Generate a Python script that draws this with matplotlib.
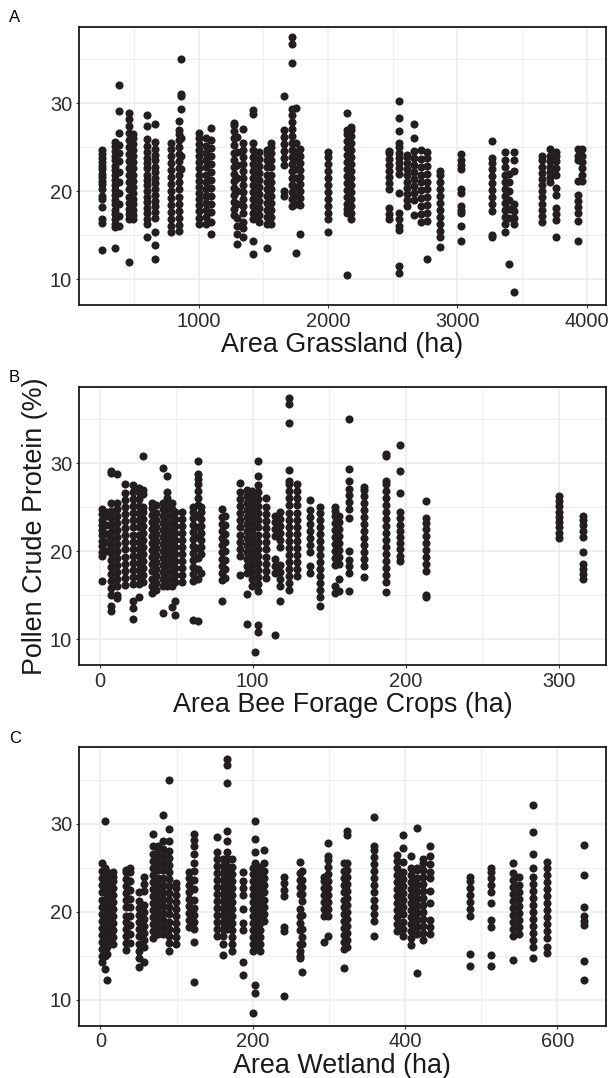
import matplotlib
matplotlib.use("Agg")
import matplotlib.pyplot as plt
from matplotlib.ticker import MultipleLocator

plt.rcParams["font.family"] = ["Liberation Sans", "DejaVu Sans"]

# ---- data: one x per site column, list of protein values per column ----

grass_x = [255, 358, 382, 466, 490, 602, 662, 789, 849, 863, 1000, 1060, 1100,
           1271, 1300, 1347, 1422, 1465, 1528, 1558, 1663, 1719, 1754, 1784,
           2004, 2146, 2176, 2471, 2553, 2613, 2667, 2719, 2764, 2863, 3029,
           3267, 3367, 3397, 3436, 3653, 3714, 3759, 3930, 3960]
grass_y = [
    [13.3, 16.4, 16.8, 18.2, 19.1, 19.5, 20.3, 20.8, 21.2, 21.6, 22.0, 22.5, 22.9, 23.3, 23.8, 24.2, 24.7],
    [13.6, 15.9, 16.3, 16.8, 17.4, 17.9, 18.5, 19.0, 19.6, 20.1, 20.7, 21.3, 21.8, 22.4, 22.9, 23.5, 24.0, 24.6, 25.1, 25.6],
    [16.0, 17.2, 18.6, 19.8, 21.0, 22.2, 23.4, 24.4, 25.3, 26.6, 29.1, 32.1],
    [12.0, 16.8, 17.4, 18.0, 18.7, 19.4, 20.2, 21.0, 21.8, 22.6, 23.4, 24.2, 25.0, 25.8, 26.6, 27.4, 28.2, 28.9],
    [16.8, 17.3, 17.9, 18.5, 19.1, 19.8, 20.5, 21.2, 21.9, 22.6, 23.3, 24.0, 24.7, 25.4, 26.0, 26.5],
    [14.8, 16.3, 16.9, 17.5, 18.1, 18.8, 19.4, 20.0, 20.7, 21.3, 21.9, 22.6, 23.2, 23.8, 24.5, 25.1, 25.9, 27.4, 28.7],
    [12.3, 13.9, 15.4, 17.0, 17.6, 18.3, 18.9, 19.6, 20.2, 20.9, 21.5, 22.2, 22.8, 23.5, 24.1, 24.8, 25.6, 27.6],
    [15.4, 16.0, 16.8, 17.6, 18.4, 19.2, 20.0, 20.8, 21.6, 22.4, 23.2, 24.0, 24.8, 25.5],
    [15.5, 16.2, 17.0, 17.8, 18.6, 19.4, 20.2, 21.0, 21.8, 22.6, 23.4, 24.2, 25.0, 25.8, 26.5, 27.0, 28.0],
    [22.5, 24.0, 26.0, 29.4, 30.8, 31.0, 35.0],
    [16.3, 17.0, 17.7, 18.4, 19.1, 19.8, 20.5, 21.2, 21.9, 22.6, 23.3, 24.0, 24.7, 25.4, 26.1, 26.6],
    [16.3, 17.1, 17.9, 18.7, 19.5, 20.3, 21.1, 21.9, 22.7, 23.5, 24.3, 25.1, 26.0],
    [15.1, 16.5, 17.6, 18.6, 19.5, 20.4, 21.3, 22.2, 23.1, 24.0, 24.9, 25.8, 27.2],
    [17.3, 18.0, 18.8, 19.6, 20.4, 21.2, 22.0, 22.8, 23.6, 24.4, 25.2, 26.0, 26.8, 27.5, 27.8],
    [14.0, 15.1, 16.0, 17.0, 18.5, 20.0, 21.5, 23.0, 24.5, 26.2],
    [14.8, 15.8, 16.5, 17.5, 18.3, 19.1, 19.9, 20.7, 21.5, 22.3, 23.1, 23.9, 24.7, 25.5, 27.1],
    [12.85, 14.4, 16.8, 17.5, 18.3, 19.1, 19.9, 20.7, 21.5, 22.3, 23.1, 23.9, 24.7, 25.5, 28.8, 29.2],
    [16.5, 17.3, 18.1, 18.9, 19.7, 20.5, 21.3, 22.1, 22.9, 23.7, 24.5],
    [13.5, 16.3, 17.1, 17.9, 18.7, 19.5, 20.3, 21.1, 21.9, 22.7, 23.5, 24.2, 24.7],
    [16.3, 17.1, 17.9, 18.7, 19.5, 20.3, 21.1, 21.9, 22.7, 23.5, 24.3, 25.0, 25.5],
    [19.5, 20.0, 23.0, 23.8, 24.6, 25.4, 26.2, 27.0, 30.8],
    [18.3, 19.1, 19.9, 20.7, 21.5, 22.3, 23.1, 23.9, 24.7, 25.5, 26.3, 27.1, 27.9, 28.7, 29.4, 34.6, 36.7, 37.5],
    [13.0, 18.5, 19.5, 20.5, 21.5, 22.5, 23.5, 24.5, 25.5, 29.5],
    [15.15, 18.4, 19.2, 20.0, 20.8, 21.6, 22.4, 23.2, 24.0, 24.8],
    [15.4, 16.8, 17.5, 18.3, 19.1, 19.9, 20.7, 21.5, 22.3, 23.1, 23.9, 24.5],
    [10.5, 17.5, 18.0, 18.5, 19.3, 20.1, 20.9, 21.7, 22.5, 23.3, 24.1, 24.9, 25.7, 26.5, 27.0, 28.9],
    [16.9, 17.5, 18.3, 19.1, 19.9, 20.7, 21.5, 22.3, 23.1, 23.9, 24.7, 25.5, 26.3, 27.0, 27.3],
    [16.8, 17.4, 18.1, 20.3, 20.9, 21.6, 22.3, 23.0, 23.7, 24.3, 24.6],
    [10.75, 11.55, 15.6, 16.0, 16.8, 17.5, 19.8, 22.0, 22.6, 23.2, 23.8, 24.4, 25.0, 25.5, 26.8, 28.3, 30.3],
    [18.3, 19.0, 19.7, 20.4, 21.1, 21.8, 22.5, 23.2, 23.9, 24.1],
    [17.3, 19.0, 19.8, 20.6, 21.4, 22.2, 23.0, 23.8, 24.6, 26.1, 27.65],
    [16.5, 17.4, 18.3, 19.2, 20.1, 21.0, 21.9, 22.8, 23.7, 24.7],
    [12.3, 16.6, 17.5, 18.4, 19.3, 20.2, 21.1, 22.0, 22.9, 23.8, 24.5],
    [13.7, 14.8, 15.5, 16.3, 17.1, 17.9, 18.7, 19.5, 20.3, 21.1, 21.8, 22.3],
    [14.4, 16.0, 17.5, 17.9, 18.3, 19.8, 20.2, 22.5, 23.0, 23.6, 24.2],
    [14.8, 15.0, 17.8, 18.5, 19.3, 20.1, 20.9, 21.7, 22.5, 23.2, 23.8, 25.7],
    [15.4, 16.3, 17.1, 17.9, 18.7, 19.5, 20.3, 21.1, 21.9, 22.7, 23.5, 24.5],
    [11.7, 17.0, 18.0, 19.0, 20.0, 21.0, 22.0],
    [8.5, 16.3, 17.0, 17.7, 18.5, 22.3, 23.5, 24.5],
    [16.5, 17.2, 17.9, 18.6, 19.3, 20.0, 20.7, 21.4, 22.1, 22.8, 23.5, 24.0],
    [21.0, 21.6, 22.2, 22.8, 23.4, 24.0, 24.8],
    [14.85, 16.7, 17.4, 18.1, 19.6, 20.4, 21.8, 22.6, 23.4, 24.0, 24.5],
    [14.4, 16.6, 17.5, 18.2, 18.9, 19.6, 21.2, 23.5, 24.0, 24.8],
    [21.2, 21.9, 22.6, 23.3, 24.0, 24.8],
]

forage_x = [1.8, 4, 7.7, 11.5, 16.6, 21.7, 25.5, 28.6, 34.5, 37, 41.6, 44.2, 47.2,
            49.3, 53.6, 61.3, 64.6, 66.4, 79.7, 82.2, 91.9, 96.2, 99.6, 101.4,
            103.4, 108.5, 114.4, 117.9, 123.8, 128.9, 137.4, 144.2, 153.7, 156.5,
            162.9, 172.8, 187.1, 196.1, 213.2, 300, 316]
forage_y = [
    [16.6, 19.5, 19.9, 20.6, 21.2, 21.8, 22.4, 23.0, 23.6, 24.2, 24.8],
    [20.0, 21.0, 22.0, 23.0, 24.0, 24.5],
    [13.2, 13.8, 15.0, 15.8, 16.6, 17.4, 18.2, 19.0, 19.8, 20.6, 21.4, 22.2, 23.0, 23.8, 24.6, 25.5, 28.9, 29.1],
    [14.7, 15.0, 16.0, 16.8, 17.6, 18.4, 19.2, 20.0, 20.8, 21.6, 22.4, 23.2, 24.0, 24.8, 25.5, 28.8],
    [16.2, 17.0, 17.8, 18.6, 19.4, 20.2, 21.0, 21.8, 22.6, 23.4, 24.2, 25.0, 25.8, 26.6, 27.6],
    [12.3, 13.5, 14.4, 16.3, 17.1, 17.9, 18.7, 19.5, 20.3, 21.1, 21.9, 22.7, 23.5, 24.3, 25.1, 25.9, 26.7, 27.5],
    [14.8, 16.3, 17.1, 17.9, 18.7, 19.5, 20.3, 21.1, 21.9, 22.7, 23.5, 24.3, 25.1, 25.9, 26.7, 27.2],
    [16.5, 17.3, 18.1, 18.9, 19.7, 20.5, 21.3, 22.1, 22.9, 23.7, 24.5, 25.0, 26.5, 27.0, 30.8],
    [15.3, 16.1, 16.9, 17.7, 18.5, 19.3, 20.1, 20.9, 21.7, 22.5, 23.3, 24.1, 24.9, 25.5],
    [15.6, 16.4, 17.2, 18.0, 18.8, 19.6, 20.4, 21.2, 22.0, 22.8, 23.6, 24.4, 25.2],
    [13.0, 16.0, 16.8, 17.6, 18.4, 19.2, 20.0, 20.8, 21.6, 22.4, 23.2, 24.0, 24.8, 25.5, 29.5],
    [16.0, 16.8, 17.6, 18.4, 19.2, 20.0, 20.8, 21.6, 22.4, 23.2, 24.0, 24.8, 25.6, 26.0, 26.7, 28.5],
    [13.7, 16.0, 16.8, 17.6, 18.4, 19.2, 20.0, 20.8, 21.6, 22.4, 23.2, 24.0, 24.8, 25.5],
    [12.8, 14.3, 16.5, 17.3, 18.1, 18.9, 19.7, 20.5, 21.3, 22.1, 22.9, 23.7, 24.5],
    [16.5, 17.3, 18.1, 18.9, 19.7, 20.5, 21.3, 22.1, 22.9, 23.7, 24.5],
    [12.2, 16.6, 17.4, 18.2, 19.0, 19.8, 20.6, 21.4, 22.2, 23.0, 23.8, 24.5, 25.0],
    [12.05, 16.8, 18.0, 19.2, 20.4, 21.6, 22.8, 24.0, 25.2, 26.0, 26.8, 27.6, 28.2, 28.8, 30.3],
    [17.5, 19.7, 20.5, 21.3, 22.1, 22.9, 23.7, 24.5, 25.0],
    [14.4, 16.7, 17.5, 18.3, 19.1, 19.9, 20.7, 21.5, 22.3, 23.1, 23.9, 24.8],
    [17.0, 18.0, 19.0, 20.0, 21.0, 22.0, 23.0, 24.0],
    [17.3, 19.5, 20.3, 21.1, 21.9, 22.7, 23.5, 24.3, 25.1, 25.9, 26.7, 27.8],
    [11.7, 15.15, 17.5, 18.3, 19.1, 19.9, 20.7, 21.5, 22.3, 23.1, 23.9, 24.7, 25.5, 26.3, 27.0],
    [16.0, 16.8, 17.6, 18.4, 19.2, 20.0, 20.8, 21.6, 22.4, 23.2, 24.0, 24.8, 25.6, 26.3, 26.8],
    [8.5],
    [10.8, 11.65, 15.5, 16.3, 17.1, 17.9, 18.7, 19.5, 20.3, 21.1, 21.9, 22.7, 23.5, 24.3, 25.1, 25.9, 26.7, 27.5, 28.5, 30.3],
    [17.0, 17.8, 18.6, 19.4, 20.2, 21.0, 21.8, 22.6, 23.4, 24.2, 25.0, 26.0],
    [10.5, 17.5, 18.3, 19.1, 21.7, 22.5, 23.3, 24.0],
    [14.3, 16.0, 16.8, 17.6, 18.4, 20.5, 21.3, 22.1, 22.9, 23.7, 24.5],
    [15.6, 16.4, 17.2, 18.0, 18.8, 19.6, 20.4, 21.2, 22.0, 22.8, 23.6, 24.4, 25.2, 26.0, 26.8, 27.6, 28.0, 29.2, 34.6, 36.7, 37.4],
    [17.2, 18.0, 18.8, 19.6, 20.4, 21.2, 22.0, 22.8, 23.6, 24.4, 25.2, 26.0, 26.8, 27.6],
    [17.5, 18.3, 19.9, 20.7, 21.5, 22.3, 23.1, 23.9, 24.7, 25.8],
    [13.75, 14.8, 15.6, 16.4, 17.2, 18.0, 18.8, 19.6, 20.4, 21.2, 22.0, 22.8, 23.6, 24.4, 25.0],
    [15.2, 16.0, 18.4, 19.2, 20.0, 20.8, 21.6, 22.4, 23.2, 24.0, 24.6, 25.0],
    [15.5, 16.8, 18.5, 19.3, 20.1, 20.9, 21.7, 22.5, 23.3, 24.0],
    [15.5, 17.5, 18.3, 19.0, 20.0, 23.8, 24.8, 25.6, 26.4, 27.1, 28.0, 29.4, 35.0],
    [17.05, 18.3, 19.1, 19.9, 20.7, 21.5, 22.3, 23.1, 23.9, 24.7, 25.5, 26.3, 27.0, 27.3],
    [15.4, 16.5, 17.3, 18.1, 18.9, 19.7, 20.5, 21.3, 22.1, 22.9, 23.7, 24.5, 25.3, 26.1, 26.9, 27.6, 28.0, 30.8, 31.0],
    [18.9, 19.5, 20.2, 20.9, 21.6, 22.3, 23.0, 23.8, 24.5, 26.6, 29.1, 32.1],
    [14.8, 15.0, 17.8, 18.5, 19.3, 20.1, 20.9, 21.7, 22.5, 23.2, 23.8, 25.7],
    [21.5, 22.1, 22.7, 23.3, 23.9, 24.5, 25.1, 25.7, 26.3],
    [16.8, 17.4, 18.0, 18.6, 19.9, 21.6, 22.3, 23.0, 23.6, 24.0],
]

wet_x = [2, 6.2, 8.7, 16.5, 33, 38.6, 50, 57.6, 69.5, 75.6, 82.3, 90, 98.8, 116.8,
         123, 152.8, 160.5, 165.7, 172.4, 187.8, 200, 203.5, 209, 214.6, 241.3,
         262.4, 265, 293.3, 299.5, 320, 323.7, 359.7, 389.5, 397.3, 407.6, 415.3,
         424, 432.3, 484.8, 513, 542.4, 550, 568.6, 586.6, 635]
wet_y = [
    [14.35, 15.0, 15.8, 16.6, 17.4, 18.2, 19.0, 19.8, 20.6, 21.4, 22.2, 23.0, 23.8, 24.6, 25.5],
    [13.5, 15.0, 15.8, 16.6, 17.4, 18.2, 19.0, 19.8, 20.6, 21.4, 22.2, 23.0, 23.8, 24.6, 25.0, 30.3],
    [12.2, 15.2, 16.0, 16.8, 17.6, 18.4, 19.2, 20.0, 20.8, 21.6, 22.4, 23.2, 24.0, 24.5],
    [16.3, 17.1, 17.9, 18.7, 19.5, 20.3, 21.1, 21.9, 22.7, 23.5, 24.0, 24.5],
    [15.7, 16.5, 17.3, 18.1, 18.9, 19.5, 20.5, 21.3, 22.1, 22.9, 23.7, 24.5, 24.8],
    [16.5, 17.5, 18.5, 19.5, 20.5, 21.5, 22.5, 23.5, 24.5, 25.0],
    [13.7, 14.8, 15.6, 16.4, 17.2, 18.0, 18.8, 19.6, 20.4, 21.2, 22.2],
    [14.3, 16.0, 16.8, 17.6, 18.4, 19.2, 20.0, 20.8, 22.4, 23.2, 24.0],
    [17.0, 17.8, 18.6, 19.4, 20.2, 21.0, 21.8, 22.6, 23.4, 24.2, 25.0, 25.8, 26.6, 27.5, 28.8],
    [17.5, 18.3, 19.1, 19.9, 20.7, 21.5, 22.3, 23.1, 23.9, 24.7, 25.5, 26.3, 27.1, 27.5],
    [17.5, 18.3, 19.1, 19.9, 20.7, 21.5, 22.3, 23.1, 23.9, 24.7, 25.5, 26.3, 27.1, 28.0, 31.0],
    [15.5, 16.5, 17.3, 18.1, 18.9, 19.7, 20.5, 21.3, 22.1, 22.9, 23.7, 24.5, 25.3, 26.1, 26.9, 28.0, 29.4, 35.0],
    [16.3, 17.1, 17.9, 18.7, 19.5, 20.3, 21.1, 21.9, 22.7, 23.3],
    [18.3, 19.1, 19.9, 20.7, 21.5, 22.3, 23.1, 23.9, 24.5],
    [12.0, 16.6, 18.0, 18.8, 19.6, 20.4, 21.4, 22.6, 23.6, 24.6, 25.6, 26.6, 27.5, 28.2, 28.8],
    [17.2, 18.0, 18.8, 19.6, 20.4, 21.2, 22.0, 22.8, 23.6, 24.4, 25.2, 26.0, 26.8, 28.5],
    [15.1, 16.4, 17.2, 18.0, 18.8, 19.6, 20.4, 21.2, 22.0, 22.8, 23.6, 24.4, 25.2, 26.0],
    [18.0, 18.8, 19.6, 20.4, 21.2, 22.0, 22.8, 23.6, 24.4, 25.2, 26.0, 26.8, 28.0, 29.2, 34.6, 36.7, 37.35],
    [15.5, 16.3, 17.1, 17.9, 18.7, 19.5, 20.3, 21.1, 21.9, 22.7, 23.5, 24.3, 25.1, 26.0],
    [12.85, 14.3, 17.9, 18.7, 20.3, 21.9, 22.7, 23.5, 24.5],
    [8.5, 15.5, 16.3, 17.1, 17.9, 18.7, 19.5, 20.3, 21.1, 21.9, 22.7, 23.5, 24.3, 25.0],
    [10.8, 11.7, 15.8, 16.6, 17.4, 18.2, 19.0, 19.8, 20.6, 21.4, 22.2, 23.0, 23.8, 24.6, 25.5, 26.8, 28.3, 30.3],
    [15.5, 16.3, 17.1, 17.9, 18.7, 19.5, 20.3, 21.1, 21.9, 22.7, 23.5, 24.3, 25.1],
    [19.0, 19.8, 20.6, 21.4, 22.2, 23.0, 23.8, 24.6, 25.5, 27.0],
    [10.45, 17.8, 18.3, 21.8, 22.5, 23.3, 24.0],
    [14.8, 15.0, 15.5, 16.3, 17.9, 18.7, 19.5, 20.3, 22.0, 22.8, 23.6, 24.4, 25.7],
    [13.15, 16.3, 17.1, 18.0, 19.6, 21.2, 22.0, 22.8, 23.6, 24.6],
    [16.6, 19.5, 20.3, 21.1, 21.9, 22.7, 23.5, 24.0],
    [17.3, 19.5, 20.3, 21.1, 21.9, 22.7, 23.5, 24.3, 25.1, 25.9, 26.4, 27.8],
    [13.6, 15.8, 16.6, 17.4, 18.2, 19.0, 19.8, 20.6, 21.4, 22.2, 23.0, 23.8, 24.6, 25.5],
    [16.0, 16.8, 17.6, 18.4, 19.2, 20.0, 20.8, 21.6, 22.4, 23.2, 24.0, 24.8, 25.5, 28.75, 29.2],
    [17.2, 19.0, 19.8, 20.6, 21.4, 22.2, 23.0, 23.8, 24.6, 25.4, 26.2, 27.0, 27.5, 30.75],
    [17.8, 18.6, 19.4, 20.2, 21.0, 21.8, 22.6, 23.4, 24.2, 25.0, 25.8, 26.5],
    [17.3, 18.1, 18.9, 19.7, 20.5, 21.3, 22.1, 22.9, 23.7, 24.5, 25.7, 27.3, 28.75],
    [16.2, 17.0, 17.8, 18.6, 19.4, 20.2, 21.0, 21.8, 22.6, 23.4, 24.2, 25.0, 26.3],
    [13.0, 17.5, 18.3, 19.1, 19.9, 20.7, 21.5, 22.3, 23.1, 23.9, 24.7, 25.0, 29.5],
    [16.8, 17.6, 18.4, 19.2, 20.0, 20.8, 21.6, 22.4, 23.2, 24.0, 24.8, 25.6, 26.0],
    [17.5, 18.3, 19.1, 21.0, 22.4, 23.9, 24.5, 25.4, 26.4, 27.5],
    [13.8, 15.2, 19.5, 20.3, 21.1, 21.9, 22.7, 23.5, 24.0],
    [13.9, 15.1, 18.3, 19.1, 21.0, 22.2, 23.0, 23.8, 24.5, 25.0],
    [14.55, 17.2, 18.0, 18.8, 19.6, 20.4, 21.2, 22.0, 22.8, 23.6, 24.4, 25.5],
    [17.5, 18.3, 19.1, 19.9, 20.7, 21.5, 22.3, 23.1, 24.0],
    [14.8, 16.0, 16.8, 17.6, 18.4, 19.2, 20.0, 20.8, 21.6, 22.4, 23.2, 24.0, 25.0, 26.6, 29.05, 32.1],
    [15.3, 16.0, 17.0, 17.8, 18.6, 19.4, 20.2, 21.0, 21.8, 22.6, 23.4, 24.2, 25.0, 25.7],
    [12.3, 14.4, 18.5, 19.0, 19.5, 20.5, 24.2, 27.6],
]

panels = [
    ("A", "Area Grassland (ha)", grass_x, grass_y, (74, 4149), 1000, 500),
    ("B", "Area Bee Forage Crops (ha)", forage_x, forage_y, (-13.6, 330.7), 100, 50),
    ("C", "Area Wetland (ha)", wet_x, wet_y, (-28.6, 664), 200, 100),
]

W, H = 612, 1078
fig = plt.figure(figsize=(W / 100, H / 100), dpi=100)

tops = [26.7, 386.7, 747.3]
ax_h = 278.5
left, right = 78.7, 606

grid_col = "#ebebeb"
dot_col = "#231f20"

for (tag, xlabel, xs, ys, xlim, major, minor), top in zip(panels, tops):
    ax = fig.add_axes([left / W, 1 - (top + ax_h) / H, (right - left) / W, ax_h / H])
    px, py = [], []
    for x, col in zip(xs, ys):
        px += [x] * len(col)
        py += col
    ax.scatter(px, py, s=34, color=dot_col, linewidths=0, zorder=3)

    ax.set_xlim(*xlim)
    ax.set_ylim(7.05, 38.7)
    ax.xaxis.set_major_locator(MultipleLocator(major))
    ax.xaxis.set_minor_locator(MultipleLocator(minor))
    ax.yaxis.set_major_locator(MultipleLocator(10))
    ax.yaxis.set_minor_locator(MultipleLocator(5))
    ax.grid(which="major", color=grid_col, lw=1.1, zorder=0)
    ax.grid(which="minor", color=grid_col, lw=0.6, zorder=0)
    ax.set_axisbelow(True)

    for s in ax.spines.values():
        s.set_color("#1a1a1a")
        s.set_linewidth(1.3)

    ax.tick_params(which="major", length=2.2, width=0.8, color="#333333",
                   labelsize=14.4, labelcolor="#2b2b2b", pad=2.5)
    ax.tick_params(which="minor", length=0)
    ax.set_xlabel(xlabel, fontsize=19.4, color="#1a1a1a", labelpad=1)

    fig.text(9 / W, 1 - (top - 9) / H, tag, fontsize=12, ha="left", va="center")

fig.text(35 / W, 1 - 526 / H, "Pollen Crude Protein (%)", rotation=90,
         fontsize=19.4, color="#1a1a1a", ha="center", va="center")

fig.savefig("out.png", dpi=100)
